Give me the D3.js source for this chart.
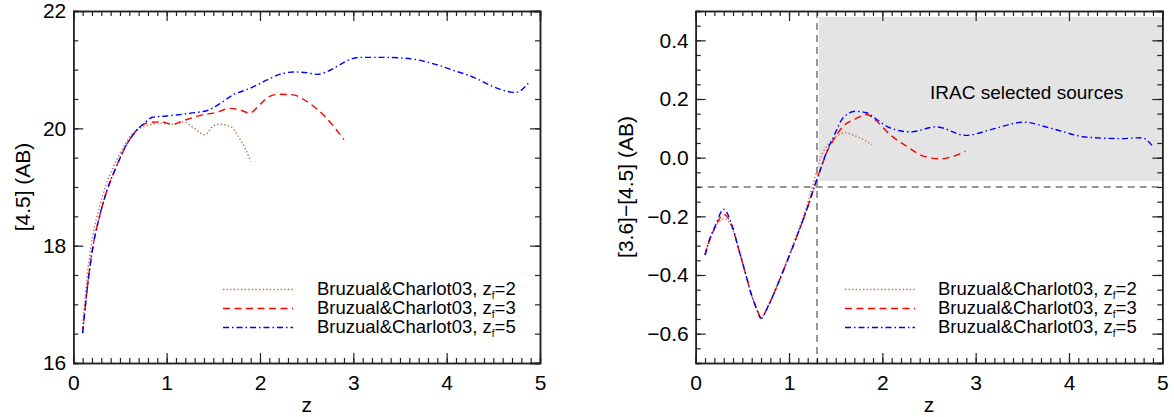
<!DOCTYPE html>
<meta charset="utf-8">
<style>
* {padding:0; margin:0; border:0;}
body {background:#fff;}
svg text {font-family:"Liberation Sans", Arial, sans-serif; fill:#000;}
</style>
<body>
<script src="https://d3js.org/d3.v7.min.js"></script>
<script>
// left panel: [4.5] (AB) against z, one track per formation redshift
var zMag2 = [0.10,0.16,0.21,0.28,0.35,0.43,0.50,0.57,0.64,0.71,0.82,0.93,1.07,1.18,1.28,1.41,1.50,1.57,1.69,1.78,1.85,1.90];
var mag2  = [16.60,17.64,18.18,18.66,19.03,19.35,19.57,19.77,19.92,20.00,20.06,20.09,20.07,20.11,20.02,19.89,20.04,20.07,20.02,19.83,19.63,19.43];

var zMag3 = [0.10,0.16,0.21,0.28,0.35,0.43,0.50,0.57,0.64,0.71,0.82,0.93,1.07,1.18,1.36,1.53,1.68,1.79,1.89,2.00,2.11,2.21,2.36,2.46,2.57,2.68,2.79,2.90];
var mag3  = [16.51,17.41,17.98,18.49,18.89,19.23,19.49,19.72,19.89,20.02,20.10,20.11,20.07,20.13,20.22,20.27,20.34,20.31,20.26,20.41,20.55,20.58,20.57,20.50,20.38,20.23,20.03,19.81];

var zMag5 = [0.10,0.16,0.21,0.28,0.35,0.43,0.50,0.57,0.64,0.71,0.77,0.85,1.00,1.17,1.36,1.43,1.57,1.71,1.89,2.07,2.21,2.36,2.50,2.61,2.71,2.82,2.93,3.07,3.29,3.50,3.64,3.86,4.07,4.29,4.50,4.68,4.73,4.79,4.89];
var mag5  = [16.51,17.41,17.98,18.49,18.89,19.23,19.49,19.72,19.89,20.02,20.10,20.19,20.21,20.24,20.28,20.30,20.42,20.57,20.68,20.82,20.92,20.96,20.95,20.92,20.96,21.05,21.15,21.21,21.21,21.20,21.18,21.10,20.99,20.87,20.71,20.62,20.61,20.64,20.80];

// right panel: [3.6]-[4.5] (AB) against z
var zCol2 = [0.10,0.15,0.21,0.30,0.39,0.46,0.53,0.60,0.65,0.70,0.78,0.89,0.99,1.10,1.21,1.28,1.35,1.42,1.50,1.60,1.72,1.89];
var col2  = [-0.330,-0.280,-0.240,-0.208,-0.240,-0.312,-0.390,-0.470,-0.513,-0.545,-0.502,-0.420,-0.340,-0.248,-0.145,-0.065,0.008,0.045,0.070,0.085,0.073,0.045];

var zCol3 = [0.10,0.15,0.21,0.30,0.39,0.46,0.53,0.60,0.65,0.70,0.78,0.89,0.99,1.10,1.21,1.28,1.35,1.40,1.48,1.58,1.71,1.83,1.94,2.08,2.26,2.44,2.62,2.76,2.89];
var col3  = [-0.332,-0.280,-0.236,-0.193,-0.235,-0.311,-0.390,-0.470,-0.513,-0.545,-0.504,-0.424,-0.345,-0.255,-0.159,-0.091,-0.028,0.015,0.062,0.107,0.132,0.147,0.124,0.079,0.039,0.005,-0.004,0.005,0.022];

var zCol5 = [0.10,0.15,0.21,0.30,0.39,0.46,0.53,0.60,0.65,0.70,0.78,0.89,0.99,1.10,1.21,1.28,1.35,1.40,1.48,1.58,1.71,1.83,1.94,2.08,2.30,2.58,2.89,3.19,3.51,3.83,4.19,4.55,4.78,4.89];
var col5  = [-0.332,-0.277,-0.232,-0.176,-0.232,-0.311,-0.390,-0.470,-0.513,-0.548,-0.504,-0.424,-0.345,-0.255,-0.159,-0.091,-0.028,0.017,0.073,0.136,0.158,0.153,0.130,0.102,0.088,0.105,0.076,0.098,0.121,0.098,0.070,0.065,0.068,0.042];

var zfLabels = ["2", "3", "5"];
var zTicks = [0, 1, 2, 3, 4, 5];
var magTicks = [16, 18, 20, 22];
var colTicks = [-0.6, -0.4, -0.2, 0.0, 0.2, 0.4];

// IRAC selection: colour cut and redshift cut, shaded box
var colourCut = -0.1, zCut = 1.3;
var boxZ = [1.32, 5], boxCol = [-0.08, 0.48];

var W = 1174, H = 417;
var top_ = 11, bottom = 363;

var styles = [
  {color:"#b9754f", dash:"1.4,2.2"},
  {color:"#ff0000", dash:"7,4.5"},
  {color:"#0000ff", dash:"6,3,1.5,3"}
];

var svg = d3.select("body").append("svg").attr("width", W).attr("height", H);

function fmtCol(d){
  var s = Math.abs(d).toFixed(1);
  return d < -1e-9 ? "\u2212" + s : s;
}

function frame(x, y, yTicks, yMinorStep, yFmt){
  var xr = x.range(), yr = y.domain();
  var xMinor = d3.range(1, 50).map(function(i){ return i/10; });
  var yMinor = d3.range(Math.round((yr[1]-yr[0])/yMinorStep)+1).map(function(i){ return +(yr[0] + i*yMinorStep).toFixed(3); });
  var g = svg.append("g");

  function style(a){
    a.selectAll(".domain").attr("stroke", "#222").attr("stroke-width", 1.5);
    a.selectAll(".tick line").attr("stroke", "#222").attr("stroke-width", 1.2);
    a.attr("font-size", 21).attr("font-family", "Liberation Sans, Arial, sans-serif");
  }

  g.append("g").attr("transform", "translate(0," + bottom + ")")
    .call(d3.axisBottom(x).tickValues(xMinor).tickSize(-5).tickFormat("")).call(style);
  g.append("g").attr("transform", "translate(0," + bottom + ")")
    .call(d3.axisBottom(x).tickValues(zTicks).tickSizeInner(-10).tickSizeOuter(0).tickPadding(12).tickFormat(d3.format("d"))).call(style);
  g.append("g").attr("transform", "translate(0," + top_ + ")")
    .call(d3.axisTop(x).tickValues(xMinor).tickSize(-5).tickFormat("")).call(style);
  g.append("g").attr("transform", "translate(0," + top_ + ")")
    .call(d3.axisTop(x).tickValues(zTicks).tickSize(-10).tickFormat("")).call(style);

  g.append("g").attr("transform", "translate(" + xr[0] + ",0)")
    .call(d3.axisLeft(y).tickValues(yMinor).tickSize(-5).tickFormat("")).call(style);
  g.append("g").attr("transform", "translate(" + xr[0] + ",0)")
    .call(d3.axisLeft(y).tickValues(yTicks).tickSizeInner(-10).tickSizeOuter(0).tickPadding(7).tickFormat(yFmt)).call(style);
  g.append("g").attr("transform", "translate(" + xr[1] + ",0)")
    .call(d3.axisRight(y).tickValues(yMinor).tickSize(-5).tickFormat("")).call(style);
  g.append("g").attr("transform", "translate(" + xr[1] + ",0)")
    .call(d3.axisRight(y).tickValues(yTicks).tickSize(-10).tickFormat("")).call(style);

  g.selectAll(".tick text").attr("fill", "#000");
}

function curves(x, y, sets){
  var line = d3.line().curve(d3.curveMonotoneX)
    .x(function(d){ return x(d[0]); }).y(function(d){ return y(d[1]); });
  sets.forEach(function(s, i){
    var pts = s[0].map(function(z, j){ return [z, s[1][j]]; });
    svg.append("path").datum(pts).attr("d", line)
      .attr("fill", "none").attr("stroke", styles[i].color)
      .attr("stroke-width", 1.4).attr("stroke-dasharray", styles[i].dash);
  });
}

function legend(x0, x1, tx){
  var rows = [289.5, 308.5, 327.5];
  zfLabels.forEach(function(lab, i){
    svg.append("line").attr("x1", x0).attr("x2", x1).attr("y1", rows[i]).attr("y2", rows[i])
      .attr("stroke", styles[i].color).attr("stroke-width", 1.4).attr("stroke-dasharray", styles[i].dash);
    var t = svg.append("text").attr("x", tx).attr("y", rows[i] + 5).attr("font-size", 18.5);
    t.append("tspan").text("Bruzual&Charlot03, z");
    t.append("tspan").attr("font-size", 10).attr("dy", 4).text("f");
    t.append("tspan").attr("dy", -4).text("=" + lab);
  });
}

function titles(xc, ytx, label){
  svg.append("text").attr("x", xc).attr("y", 412).attr("text-anchor", "middle")
    .attr("font-size", 21).text("z");
  svg.append("text").attr("transform", "translate(" + ytx + "," + ((top_ + bottom)/2) + ") rotate(-90)")
    .attr("text-anchor", "middle").attr("font-size", 21).text(label);
}

// ---- left panel
var xL = d3.scaleLinear().domain([0, 5]).range([73.3, 540]);
var yL = d3.scaleLinear().domain([16, 22]).range([bottom, top_]);
curves(xL, yL, [[zMag2, mag2], [zMag3, mag3], [zMag5, mag5]]);
frame(xL, yL, magTicks, 0.5, d3.format("d"));
legend(223, 293, 317);
titles((xL.range()[0] + xL.range()[1]) / 2, 29.5, "[4.5] (AB)");

// ---- right panel
var xR = d3.scaleLinear().domain([0, 5]).range([695.7, 1162.3]);
var yR = d3.scaleLinear().domain([-0.7, 0.5]).range([bottom, top_]);

svg.append("rect").attr("x", xR(boxZ[0])).attr("y", yR(boxCol[1]))
  .attr("width", xR(boxZ[1]) - xR(boxZ[0])).attr("height", yR(boxCol[0]) - yR(boxCol[1]))
  .attr("fill", "#e4e4e4");
svg.append("line").attr("x1", xR(zCut)).attr("x2", xR(zCut)).attr("y1", yR(0.5)).attr("y2", yR(-0.7))
  .attr("stroke", "#777").attr("stroke-width", 1.5).attr("stroke-dasharray", "7,5");
svg.append("line").attr("x1", xR(0)).attr("x2", xR(5)).attr("y1", yR(colourCut)).attr("y2", yR(colourCut))
  .attr("stroke", "#777").attr("stroke-width", 1.5).attr("stroke-dasharray", "7,5");
svg.append("text").attr("x", 930).attr("y", 99).attr("font-size", 19).text("IRAC selected sources");

curves(xR, yR, [[zCol2, col2], [zCol3, col3], [zCol5, col5]]);
frame(xR, yR, colTicks, 0.05, fmtCol);
legend(845, 915, 938);
titles((xR.range()[0] + xR.range()[1]) / 2, 633, "[3.6]\u2212[4.5] (AB)");
</script>
